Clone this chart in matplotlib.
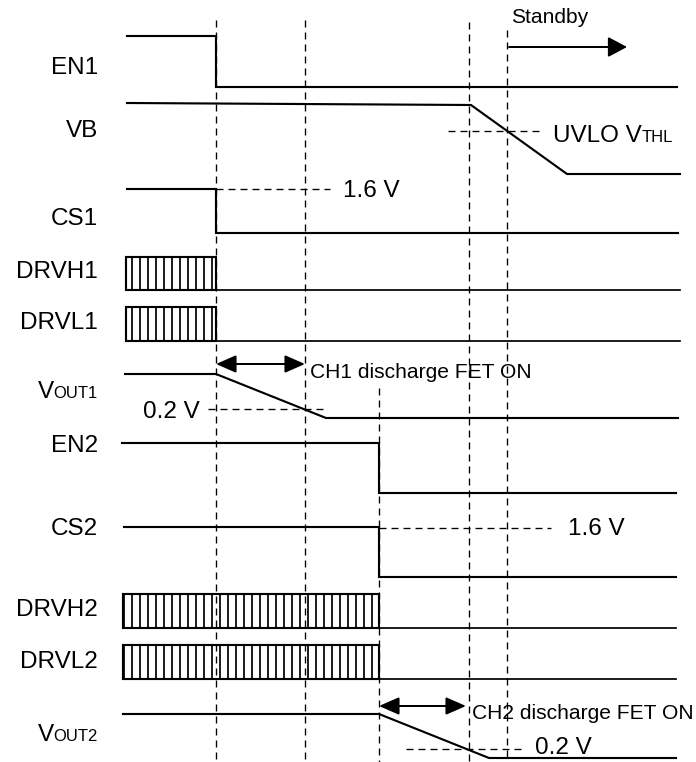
import matplotlib
matplotlib.use('Agg')
from matplotlib import pyplot as plt
from matplotlib.patches import Rectangle

plt.rcParams['font.family'] = ['Liberation Sans', 'DejaVu Sans']
plt.rcParams['hatch.linewidth'] = 1.3
plt.rcParams['lines.scale_dashes'] = False

# everything is in picture pixels (x to the right, y downwards)
# signal names on the left: main part, small-caps suffix, baseline
label_main = ['EN1', 'VB', 'CS1', 'DRVH1', 'DRVL1', 'V', 'EN2', 'CS2', 'DRVH2', 'DRVL2', 'V']
label_sub = ['', '', '', '', '', 'OUT1', '', '', '', '', 'OUT2']
label_base = [74, 137, 225, 278, 329, 398, 452, 535, 616, 668, 741]

# plain waveforms
en1_t = [127, 216, 216, 677]
en1_v = [36, 36, 87, 87]
vb_t = [127, 471, 567, 680]
vb_v = [103, 105, 174, 174]
cs1_t = [127, 216, 216, 678]
cs1_v = [189, 189, 233, 233]
vout1_t = [125, 216, 326, 678]
vout1_v = [374, 374, 418, 418]
en2_t = [122, 379, 379, 676]
en2_v = [443, 443, 493, 493]
cs2_t = [124, 379, 379, 676]
cs2_v = [527, 527, 577, 577]
vout2_t = [123, 379, 489, 676]
vout2_v = [714, 714, 758, 758]

# switching gate drivers: start, stop, top, bottom, end of low line
drv_start = [126, 126, 123, 123]
drv_stop = [216, 216, 379, 379]
drv_top = [257, 307, 594, 645]
drv_bottom = [290, 341, 628, 679]
drv_end = [680, 680, 676, 676]

# dashed timing guides
guide_x = [216, 305, 379, 469, 507]
guide_top = [20, 20, 388, 22, 30]
guide_bottom = 762

# dashed threshold markers: y, x from, x to
thr_y = [189, 131, 409, 528, 749]
thr_x0 = [216, 448, 208, 379, 406]
thr_x1 = [330, 540, 328, 551, 526]

# threshold / note texts: text, suffix, left x, baseline
note_text = ['1.6 V', 'UVLO V', '0.2 V', '1.6 V', '0.2 V']
note_sub = ['', 'THL', '', '', '']
note_x = [343, 553, 143, 568, 535]
note_base = [197, 142, 418, 535, 754]

BIG = 18.2
SUB = 12.5
MID = 15.75

fig = plt.figure(figsize=(7.25, 7.9375), dpi=96)
ax = fig.add_axes([0, 0, 1, 1])
ax.set_xlim(0, 696)
ax.set_ylim(762, 0)
ax.axis('off')

dash = (0, (5.25, 3.75))

for x, top in zip(guide_x, guide_top):
    ax.plot([x, x], [top, guide_bottom], color='black', lw=1.0, linestyle=dash)

for y, x0, x1 in zip(thr_y, thr_x0, thr_x1):
    ax.plot([x0, x1], [y, y], color='black', lw=1.0, linestyle=dash)

for t, v in [(en1_t, en1_v), (vb_t, vb_v), (cs1_t, cs1_v), (vout1_t, vout1_v),
             (en2_t, en2_v), (cs2_t, cs2_v), (vout2_t, vout2_v)]:
    ax.plot(t, v, color='black', lw=1.6, solid_joinstyle='miter')

for x0, x1, top, bot, xe in zip(drv_start, drv_stop, drv_top, drv_bottom, drv_end):
    ax.add_patch(Rectangle((x0, top), x1 - x0, bot - top, facecolor='white',
                           edgecolor='black', hatch='||', lw=1.6))
    ax.plot([x1, xe], [bot, bot], color='black', lw=1.3)

# arrows
ax.annotate('', xy=(627, 47), xytext=(509, 47),
            arrowprops=dict(arrowstyle='-|>,head_length=0.6,head_width=0.32',
                            mutation_scale=20, lw=1.5, color='black',
                            shrinkA=0, shrinkB=0))
for (xa, xb, y) in [(216, 305, 364), (379, 466, 706)]:
    ax.annotate('', xy=(xb, y), xytext=(xa, y),
                arrowprops=dict(arrowstyle='<|-|>,head_length=0.64,head_width=0.28',
                                mutation_scale=20, lw=1.5, color='black',
                                shrinkA=0, shrinkB=0))

ax.text(511, 23, 'Standby', fontsize=MID, ha='left', va='baseline')
ax.text(310, 378, 'CH1 discharge FET ON', fontsize=MID, ha='left', va='baseline')
ax.text(472, 719, 'CH2 discharge FET ON', fontsize=MID, ha='left', va='baseline')

fig.canvas.draw()
renderer = fig.canvas.get_renderer()

# signal names, right aligned
for main, sub, y in zip(label_main, label_sub, label_base):
    if sub:
        t2 = ax.text(98, y, sub, fontsize=SUB, ha='right', va='baseline')
        w2 = t2.get_window_extent(renderer).width
        ax.text(98 - w2, y, main, fontsize=BIG, ha='right', va='baseline')
    else:
        ax.text(98, y, main, fontsize=BIG, ha='right', va='baseline')

# threshold notes
for s, sub, x, y in zip(note_text, note_sub, note_x, note_base):
    t1 = ax.text(x, y, s, fontsize=BIG, ha='left', va='baseline')
    if sub:
        w1 = t1.get_window_extent(renderer).width
        ax.text(x + w1, y, sub, fontsize=SUB, ha='left', va='baseline')

fig.savefig('out.png', dpi=96)
